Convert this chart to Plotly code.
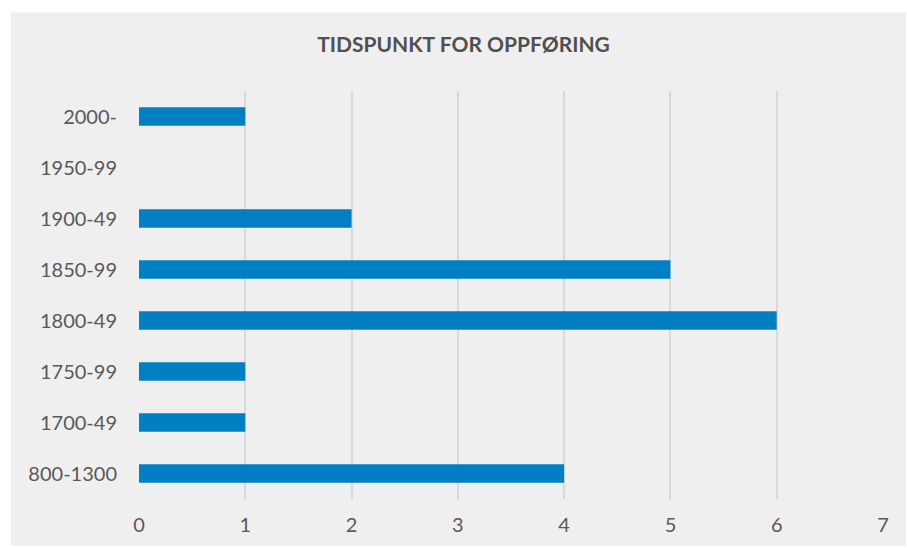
import plotly.graph_objects as go

categories = ["800-1300", "1700-49", "1750-99", "1800-49", "1850-99", "1900-49", "1950-99", "2000-"]
values = [4, 1, 1, 6, 5, 2, 0, 1]
x_ticks = [0, 1, 2, 3, 4, 5, 6, 7]
title_text = "TIDSPUNKT FOR OPPFØRING"

W, H = 907, 548
ml, mr, mt, mb = 139, 24, 91, 47
pw, ph = W - ml - mr, H - mt - mb

fig = go.Figure(go.Bar(
    x=values, y=categories, orientation="h",
    marker=dict(color="#0080C3", line=dict(width=0)),
    hoverinfo="skip",
))

# grey panel in paper coords relative to plot area
x0 = (11 - ml) / pw
x1 = (906 - ml) / pw
y1 = (H - 12 - mb) / ph
y0 = (0 - mb) / ph
fig.add_shape(type="rect", xref="paper", yref="paper", x0=x0, x1=x1, y0=y0, y1=y1,
              fillcolor="#EFEFEF", line=dict(width=0), layer="below")

fig.update_layout(
    width=W, height=H,
    margin=dict(l=ml, r=mr, t=mt, b=mb),
    paper_bgcolor="white", plot_bgcolor="rgba(0,0,0,0)",
    font=dict(family="Lato", color="#595959", size=20),
    bargap=0.64,
    showlegend=False,
    title=dict(text=title_text, x=463.5 / W, xanchor="center", y=1 - 45 / H, yanchor="middle",
               font=dict(family="Lato", size=21, color="#505050", weight="bold")),
    xaxis=dict(range=[0, 7], tickvals=x_ticks, showgrid=True, gridcolor="#D9D9D9", gridwidth=2,
               zeroline=False, showline=False, ticks="", ticklabelstandoff=12, fixedrange=True),
    yaxis=dict(categoryorder="array", categoryarray=categories, showgrid=False, zeroline=False,
               showline=False, ticks="", ticklabelstandoff=21, fixedrange=True),
)

fig.write_html("out.html", config={"displayModeBar": False},
               post_script="document.body.style.margin='0';document.body.style.padding='0';")
